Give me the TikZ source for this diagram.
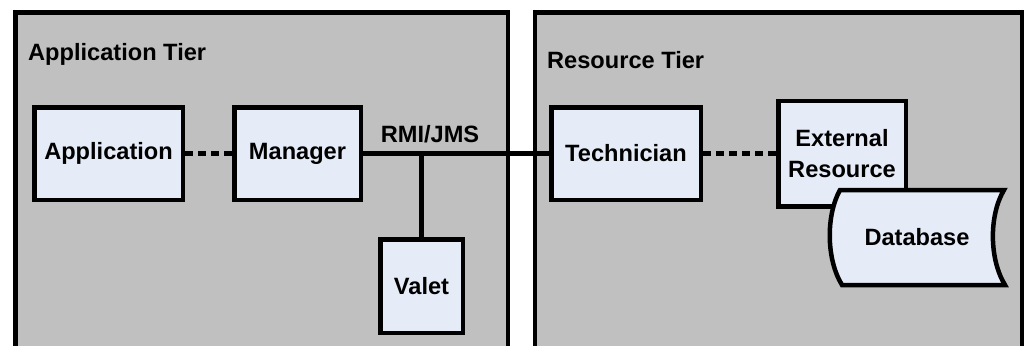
\documentclass[tikz,border=0pt]{standalone}
\usepackage{fontspec}
\setmainfont{Liberation Sans}
\usepackage{tikz}
\usetikzlibrary{positioning}

\definecolor{tiergray}{HTML}{C0C0C0}
\definecolor{boxblue}{HTML}{E6ECF7}

\begin{document}
\begin{tikzpicture}[
        x=1pt, y=-1pt,
        tier/.style={draw, fill=tiergray, line width=4.5pt},
        tiertitle/.style={inner sep=0pt, font=\bfseries\fontsize{23.6}{31.5}\selectfont},
        comp/.style={rectangle, draw, fill=boxblue, line width=4.5pt, align=center, inner sep=0pt, font=\bfseries\fontsize{23.6}{31.5}\selectfont},
        dbshape/.style={draw, fill=boxblue, line width=4.5pt},
        link/.style={line width=4.5pt},
        dotlink/.style={line width=4.5pt, dash pattern=on 8pt off 5pt}
    ]
        \useasboundingbox (0,0) rectangle (1024,345);
        \clip (0,0) rectangle (1024,345);

        % Tiers
        \draw[tier] (15.5,12.5) rectangle (508,360);
        \draw[tier] (535,12.5) rectangle (1022,360);
        \node[tiertitle, anchor=base west] (apptitle) at (28,60) {Application Tier};
        \node[tiertitle, anchor=base west] (restitle) at (547,68) {Resource Tier};

        % Application Tier
        \node[comp, minimum width=148.5pt, minimum height=92.5pt] (application) at (108.5,153.5) {Application};
        \node[comp, minimum width=126.5pt, minimum height=92.5pt, right=47pt of application] (manager) {Manager};
        \node[comp, minimum width=82.5pt, minimum height=93.5pt] (valet) at (421.5,286) {Valet};

        % Resource Tier
        \node[comp, minimum width=149.5pt, minimum height=92.5pt] (technician) at (626,153.5) {Technician};
        \node[comp, minimum width=127.5pt, minimum height=105.5pt, right=73pt of technician] (external) {External\\Resource};

        % Database
        \coordinate (dbc) at (917,237);
        \draw[dbshape, shift={(dbc)}] (-77,-47) -- (87,-47) .. controls (72,-22) and (72,22) .. (88,48)
            -- (-75,48) .. controls (-91,22) and (-91,-22) .. (-77,-47) -- cycle;
        \node[tiertitle] (database) at (dbc) {Database};

        % Connections
        \draw[dotlink] (application) -- (manager);
        \draw[link] (manager) -- (technician);
        \coordinate (rmi) at (valet.north |- manager.east);
        \draw[link] (rmi) -- (valet);
        \node[tiertitle, anchor=base] (rmilabel) at (430,142) {RMI/JMS};
        \draw[dotlink] (technician) -- (external);
    \end{tikzpicture}
\end{document}
